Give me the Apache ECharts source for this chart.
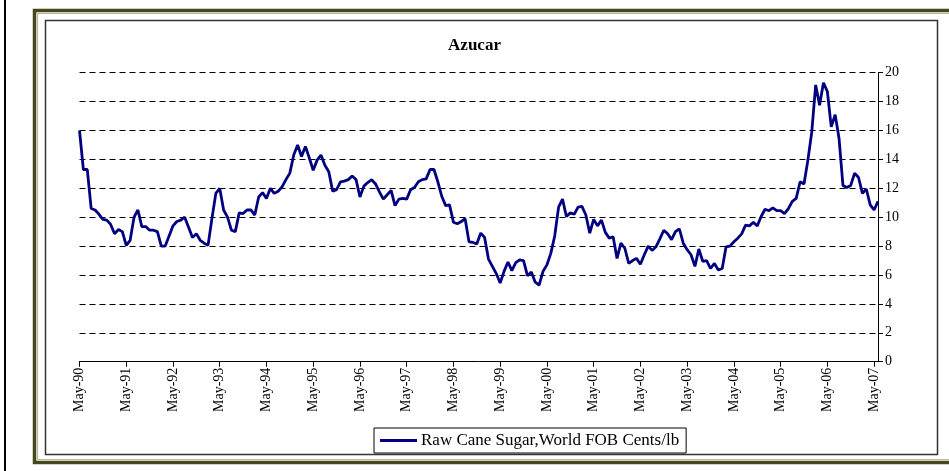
<!DOCTYPE html>
<html>
<head>
<meta charset="utf-8">
<title>Azucar</title>
<script src="https://cdn.jsdelivr.net/npm/echarts@6/dist/echarts.min.js"></script>
<style>
  html, body { margin: 0; padding: 0; background: #ffffff; }
  #chart { width: 949px; height: 471px; }
</style>
</head>
<body>
<div id="chart"></div>
<script>
// Monthly raw cane sugar price, world FOB (US cents per lb), May 1990 onward
const startYear = 1990;
const startMonth = 4; // May (0-based)
const monthNames = ['Jan', 'Feb', 'Mar', 'Apr', 'May', 'Jun', 'Jul', 'Aug', 'Sep', 'Oct', 'Nov', 'Dec'];

const sugarPrice = [
  16.0, 13.3, 13.3, 10.6, 10.5, 10.2, 9.85, 9.8, 9.5, 8.85, 9.15, 9.0,
  8.05, 8.4, 10.0, 10.5, 9.35, 9.35, 9.1, 9.1, 9.0, 8.0, 8.0, 8.7,
  9.4, 9.7, 9.8, 10.0, 9.3, 8.6, 8.85, 8.4, 8.2, 8.05, 9.9, 11.65,
  12.0, 10.5, 10.0, 9.1, 9.0, 10.3, 10.25, 10.5, 10.5, 10.15, 11.4, 11.7,
  11.3, 12.0, 11.65, 11.8, 12.1, 12.6, 13.05, 14.3, 15.0, 14.2, 14.9, 14.1,
  13.25, 13.95, 14.3, 13.6, 13.15, 11.8, 11.9, 12.45, 12.5, 12.6, 12.85, 12.6,
  11.4, 12.15, 12.4, 12.6, 12.3, 11.75, 11.25, 11.55, 11.85, 10.8, 11.25, 11.3,
  11.25, 11.9, 12.05, 12.45, 12.6, 12.65, 13.3, 13.3, 12.45, 11.45, 10.8, 10.85,
  9.65, 9.55, 9.7, 9.9, 8.3, 8.25, 8.15, 8.9, 8.6, 7.1, 6.6, 6.1,
  5.45, 6.25, 6.9, 6.3, 6.85, 7.05, 7.0, 5.95, 6.2, 5.5, 5.3, 6.25,
  6.7, 7.5, 8.7, 10.7, 11.25, 10.05, 10.3, 10.2, 10.7, 10.75, 10.15, 8.9,
  9.85, 9.4, 9.8, 8.95, 8.55, 8.65, 7.15, 8.2, 7.85, 6.8, 7.0, 7.15,
  6.75, 7.4, 8.0, 7.7, 7.95, 8.5, 9.1, 8.85, 8.45, 9.0, 9.2, 8.2,
  7.75, 7.4, 6.6, 7.8, 6.95, 7.0, 6.45, 6.8, 6.35, 6.45, 7.95, 8.0,
  8.3, 8.55, 8.85, 9.45, 9.4, 9.65, 9.4, 10.05, 10.55, 10.45, 10.65, 10.45,
  10.45, 10.25, 10.6, 11.1, 11.3, 12.45, 12.3, 13.95, 15.9, 19.15, 17.75, 19.3,
  18.7, 16.25, 17.1, 15.45, 12.2, 12.05, 12.2, 13.05, 12.75, 11.65, 11.95, 10.85,
  10.5, 11.1
];

const seriesName = 'Raw Cane Sugar,World FOB Cents/lb';
const chartTitle = 'Azucar';
const yTicks = { min: 0, max: 20, step: 2 };

// Month labels such as "May-90"
const monthLabels = sugarPrice.map(function (_, i) {
  const m = (startMonth + i) % 12;
  const y = startYear + Math.floor((startMonth + i) / 12);
  return monthNames[m] + '-' + String(y % 100).padStart(2, '0');
});

const serif = '"Liberation Serif", "Times New Roman", serif';
const everyYear = function (index) { return index % 12 === 0; };

const chart = echarts.init(document.getElementById('chart'), null, { renderer: 'canvas' });

chart.setOption({
  animation: false,
  backgroundColor: '#ffffff',
  title: {
    text: chartTitle,
    left: 'center',
    top: 37,
    padding: 0,
    textStyle: { fontFamily: serif, fontWeight: 'bold', fontSize: 17, color: '#000' }
  },
  legend: {
    data: [seriesName],
    left: 374,
    top: 428,
    orient: 'horizontal',
    icon: 'rect',
    itemWidth: 37,
    itemHeight: 3,
    itemGap: 4,
    padding: [4, 7, 4, 6],
    borderColor: '#000',
    borderWidth: 1,
    textStyle: { fontFamily: serif, fontSize: 17, color: '#000', padding: [0, 0, 0, -1] }
  },
  grid: { left: 79.5, right: 71, top: 72.7, bottom: 109.3, containLabel: false },
  xAxis: {
    type: 'category',
    data: monthLabels,
    boundaryGap: false,
    axisLine: { show: true, lineStyle: { color: '#000', width: 1 } },
    axisTick: { show: true, interval: everyYear, length: 5, lineStyle: { color: '#000' } },
    axisLabel: {
      interval: everyYear,
      rotate: 90,
      margin: 6,
      fontFamily: serif,
      fontSize: 14,
      color: '#000'
    },
    splitLine: { show: false }
  },
  yAxis: {
    type: 'value',
    position: 'right',
    min: yTicks.min,
    max: yTicks.max,
    interval: yTicks.step,
    axisLine: { show: true, lineStyle: { color: '#000', width: 1 } },
    axisTick: { show: true, inside: false, length: 5, lineStyle: { color: '#000' } },
    axisLabel: { margin: 7, fontFamily: serif, fontSize: 14, color: '#000' },
    splitLine: { show: true, lineStyle: { color: '#000', width: 1, type: [6, 4] } }
  },
  series: [{
    name: seriesName,
    type: 'line',
    data: sugarPrice,
    symbol: 'none',
    smooth: false,
    lineStyle: { color: '#000080', width: 2.8 },
    itemStyle: { color: '#000080' }
  }],
  graphic: [
    // thin black rule at the far left
    { type: 'rect', shape: { x: 4, y: 0, width: 2, height: 471 }, style: { fill: '#000' }, silent: true },
    // olive outer frame
    { type: 'rect', shape: { x: 34.5, y: 10.5, width: 930, height: 452 }, style: { fill: 'none', stroke: '#47471d', lineWidth: 3.5 }, silent: true },
    { type: 'rect', shape: { x: 37.5, y: 13.5, width: 925, height: 446 }, style: { fill: 'none', stroke: '#b9b991', lineWidth: 1.2 }, silent: true },
    // inner chart area border
    { type: 'rect', shape: { x: 45.5, y: 20.5, width: 892, height: 434 }, style: { fill: 'none', stroke: '#333333', lineWidth: 1.5 }, silent: true }
  ]
});
</script>
</body>
</html>
